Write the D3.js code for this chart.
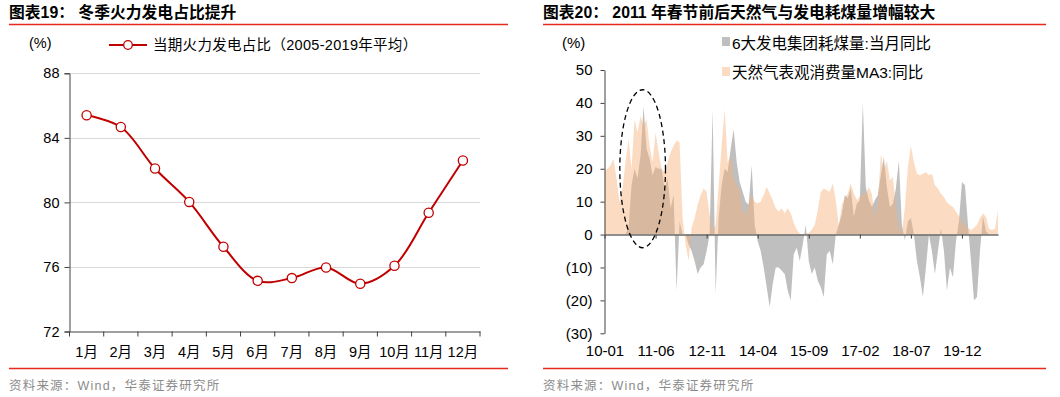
<!DOCTYPE html>
<html><head><meta charset="utf-8">
<script src="https://cdn.jsdelivr.net/npm/d3@7"></script>
<style>
body{margin:0;background:#fff;}
svg{display:block;}
text{font-family:"Liberation Sans","Noto Sans CJK SC",sans-serif;}
.cjk{font-family:"Liberation Sans","Noto Sans CJK SC",sans-serif;}
</style></head>
<body>
<svg id="c" width="1060" height="397"></svg>
<script>
// ---------- data ----------
const months = ["1月","2月","3月","4月","5月","6月","7月","8月","9月","10月","11月","12月"];
const thermalShare = [85.4,84.67,82.1,80.03,77.25,75.14,75.31,75.97,74.96,76.07,79.36,82.6];
const leftYTicks = [72,76,80,84,88];

const gasYoY = [19.5,20,21,23,17,10,14,22,29,20,35,31,36,33,35,27,22,31,25,20,19,22,25,27,28.6,28,5,-3,-8,2,
 5,9,12,14,13,6,1,3,15,27,38,22,24,17,15,14,7,6,10,12,10,9.5,10,12,14.5,12.5,10.5,8,7,8,
 6.5,8,6.5,3.5,1.5,0.3,-0.5,0.5,0.5,1.5,3,7.5,13,14,13.5,13,15.5,10.5,2.5,9,11,12.5,15.5,12.5,10.5,11.5,12.4,12.4,14.4,12.4,
 5,10,24.5,19.5,22.5,16.5,17.5,8.4,2.3,0.3,8.4,20.5,27,22,18.5,18,18.5,19,18,18.5,15,13.9,12.4,11.4,9.8,9,
 8.4,7,5.6,3.8,2.8,2,1.4,2,3,5,6.4,5.4,1.8,1.4,1.8,7.4];
const coalYoY = [0,0,0,0,0,0,0,0,2,15,20,17,24,39,26,23,18,20.5,20,20,14,17,8,12,-17,4,0,0,-3,-5,
 -8,-12,-10,-9,-5,0,38,-18,5,15,20,19,26,32,22,16,13,10,9,21,3,-2,-5,-10,-16,-22,-15,-10,-10,-11,
 -12,-17,-20,-6,-4,-8,-3,3,-8,-12,-10,-14,-16,-19,-6,-5,-9,0,3,6,12,11,14,5.5,9.4,10.4,40,14.4,10.4,8.4,
 10.4,12,18,23.5,14.4,8.4,9.4,14,22.5,3,-1.7,4,5,0,-8,-13,-19,-10,0,-5,
 -12,-5,2,-5,-17,-10,-13,-2,4,16,15,3,-8,-20,-19,-5,5.5,1,0,0,0];
const rightXTickIdx = [0,17,34,51,68,85,102,119];
const rightXTickLabels = ["10-01","11-06","12-11","14-04","15-09","17-02","18-07","19-12"];
const rightYTicks = [-30,-20,-10,0,10,20,30,40,50];

const svg = d3.select("#c");

// ---------- common frame ----------
function frame(x0, x1, title){
  svg.append("text").attr("x",x0).attr("y",18).attr("font-size",15.8).attr("font-weight","bold")
    .attr("class","cjk").attr("fill","#000").text(title);
  svg.append("line").attr("x1",x0).attr("x2",x1).attr("y1",24.5).attr("y2",24.5).attr("stroke","#E8281E").attr("stroke-width",1.3);
  svg.append("line").attr("x1",x0).attr("x2",x1).attr("y1",368.5).attr("y2",368.5).attr("stroke","#E8281E").attr("stroke-width",1.3);
  svg.append("text").attr("x",x0).attr("y",390).attr("font-size",12.5).attr("letter-spacing",1.2).attr("fill","#8c8c8c").attr("class","cjk")
    .text("资料来源：Wind，华泰证券研究所");
}
frame(9, 508, "图表19：  冬季火力发电占比提升");
frame(543, 1046, "图表20：  2011 年春节前后天然气与发电耗煤量增幅较大");

// ---------- left chart ----------
{
  const x = d3.scaleBand().domain(months).range([69.5, 480]).padding(0);
  const y = d3.scaleLinear().domain([72,88]).range([331.5, 73.3]);
  const g = svg.append("g");
  g.selectAll("line.grid").data(leftYTicks.filter(d=>d>72)).join("line")
    .attr("x1",69.5).attr("x2",480).attr("y1",d=>Math.round(y(d))+0.5).attr("y2",d=>Math.round(y(d))+0.5)
    .attr("stroke","#D9D9D9").attr("stroke-width",1);
  const ya = d3.axisLeft(y).tickValues(leftYTicks).tickSize(5).tickFormat(d3.format("d"));
  const yg = g.append("g").attr("transform","translate(69.5,0)").call(ya);
  yg.select(".domain").attr("stroke","#404040");
  yg.selectAll(".tick line").attr("stroke","#404040");
  yg.selectAll("text").attr("font-size",14.5).attr("fill","#000").attr("x",-10);
  const xa = d3.axisBottom(x).tickSize(0).tickSizeOuter(0);
  const xg = g.append("g").attr("transform","translate(0,331.5)").call(xa);
  xg.select(".domain").attr("stroke","#404040");
  xg.selectAll("text").attr("font-size",14.5).attr("fill","#000").attr("dy","1.55em").attr("class","cjk");
  const bounds = months.map(m=>x(m)).concat([x.range()[1]]);
  g.selectAll("line.bt").data(bounds).join("line")
    .attr("x1",d=>d).attr("x2",d=>d).attr("y1",331.5).attr("y2",336.5).attr("stroke","#404040");
  const line = d3.line().x((d,i)=>x(months[i])+x.bandwidth()/2).y(d=>y(d)).curve(d3.curveCatmullRom.alpha(0.5));
  g.append("path").datum(thermalShare).attr("d",line).attr("fill","none").attr("stroke","#C00000").attr("stroke-width",2);
  g.selectAll("circle").data(thermalShare).join("circle")
    .attr("cx",(d,i)=>x(months[i])+x.bandwidth()/2).attr("cy",d=>y(d)).attr("r",4.6)
    .attr("fill","#fff").attr("stroke","#C00000").attr("stroke-width",1.3);
  svg.append("text").attr("x",29).attr("y",48).attr("font-size",14.5).text("(%)");
  svg.append("line").attr("x1",109).attr("x2",147).attr("y1",45).attr("y2",45).attr("stroke","#C00000").attr("stroke-width",2);
  svg.append("circle").attr("cx",128).attr("cy",45).attr("r",4.3).attr("fill","#fff").attr("stroke","#C00000").attr("stroke-width",1.3);
  svg.append("text").attr("x",153).attr("y",50).attr("font-size",14.5).attr("letter-spacing",0.3).attr("class","cjk").text("当期火力发电占比（2005-2019年平均）");
}

// ---------- right chart ----------
{
  const N = gasYoY.length;
  const x = d3.scaleLinear().domain([0, N-1]).range([604.5, 998]);
  const y = d3.scaleLinear().domain([-30,50]).range([333.3, 70]);
  const g = svg.append("g");
  const areaC = d3.area().x((d,i)=>x(i)).y0(y(0)).y1(d=>y(d));
  g.append("path").datum(coalYoY).attr("d",areaC).attr("fill","#BFBFBF");
  g.append("path").datum(gasYoY).attr("d",areaC).attr("fill","rgb(247,178,122)").attr("fill-opacity",0.45);
  const ya = d3.axisLeft(y).tickValues(rightYTicks).tickSize(4).tickSizeOuter(0)
    .tickFormat(d=> d<0 ? "("+(-d)+")" : String(d));
  const yg = g.append("g").attr("transform","translate(604.5,0)").call(ya);
  yg.select(".domain").attr("stroke","#404040");
  yg.selectAll(".tick line").attr("stroke","#404040");
  yg.selectAll("text").attr("font-size",15).attr("fill","#000").attr("x",-12);
  const xa = d3.axisBottom(x).tickValues(rightXTickIdx).tickSize(4).tickSizeOuter(0)
    .tickFormat((d,i)=>rightXTickLabels[i]);
  const xg = g.append("g").attr("transform","translate(0,"+y(0)+")").call(xa);
  xg.select(".domain").attr("stroke","#6b6b6b").attr("stroke-width",1.5);
  xg.selectAll(".tick line").attr("stroke","#404040");
  xg.selectAll("text").attr("font-size",15).attr("fill","#000").attr("y",333.3-y(0)+12);
  const cxI = 12.7, cyV = 20, rxI = 7.6, ryV = 24;
  g.append("ellipse").attr("cx",x(cxI)).attr("cy",y(cyV))
    .attr("rx",x(cxI+rxI)-x(cxI)).attr("ry",y(0)-y(ryV))
    .attr("fill","none").attr("stroke","#000").attr("stroke-width",1.3).attr("stroke-dasharray","5,3.5");
  svg.append("text").attr("x",562).attr("y",48).attr("font-size",15).text("(%)");
  svg.append("rect").attr("x",722).attr("y",37).attr("width",8).attr("height",9).attr("fill","#BFBFBF");
  svg.append("text").attr("x",732).attr("y",49).attr("font-size",15.5).attr("class","cjk").text("6大发电集团耗煤量:当月同比");
  svg.append("rect").attr("x",722).attr("y",67).attr("width",8).attr("height",9).attr("fill","rgb(247,178,122)").attr("fill-opacity",0.45);
  svg.append("text").attr("x",732).attr("y",78).attr("font-size",15.5).attr("class","cjk").text("天然气表观消费量MA3:同比");
}
</script>
</body></html>
